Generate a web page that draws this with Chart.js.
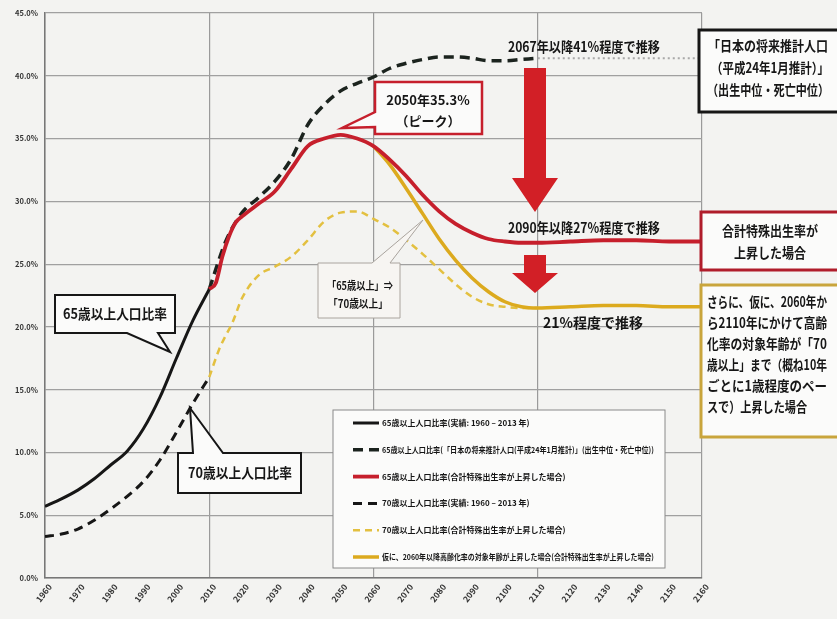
<!DOCTYPE html>
<html>
<head>
<meta charset="utf-8">
<script src="https://cdn.jsdelivr.net/npm/chart.js@4.4.1/dist/chart.umd.min.js"></script>
<style>
  html, body { margin: 0; padding: 0; background: #f3f3f1; }
  #wrap { width: 837px; height: 619px; }
</style>
</head>
<body>
<div id="wrap"><canvas id="chart" width="837" height="619"></canvas></div>
<script>
// --- DATA ---
const yTicks = [0, 5, 10, 15, 20, 25, 30, 35, 40, 45];

// 65歳以上人口比率 (実績)
const actualYears = [1960, 1965, 1970, 1975, 1980, 1985, 1990, 1995, 2000, 2005, 2010];
const actual65 = [5.7, 6.3, 7.0, 7.9, 9.0, 10.1, 11.9, 14.4, 17.5, 20.5, 23.0];
// 70歳以上人口比率 (実績)
const actual70 = [3.3, 3.5, 3.9, 4.6, 5.5, 6.5, 7.7, 9.4, 11.6, 13.9, 16.0];

// 65歳以上 将来推計 (出生中位・死亡中位)
const projYears = [2010, 2015, 2020, 2025, 2030, 2035, 2040, 2045, 2050, 2055, 2060,
                   2065, 2070, 2075, 2080, 2085, 2090, 2095, 2100, 2105, 2110];
const proj65 = [23.0, 26.8, 29.1, 30.3, 31.6, 33.4, 36.1, 37.7, 38.8, 39.4, 39.9,
                40.6, 41.0, 41.3, 41.5, 41.5, 41.4, 41.2, 41.2, 41.3, 41.4];
// 41%程度で推移 (延長)
const extYears = [2110, 2160];
const ext65 = [41.4, 41.4];

// 65歳以上 合計特殊出生率が上昇した場合
const riseYears = [2010, 2012, 2014, 2016, 2018, 2020, 2025, 2030, 2035, 2040, 2045, 2050,
                   2055, 2060, 2065, 2070, 2075, 2080, 2085, 2090, 2095, 2100, 2105, 2110,
                   2120, 2130, 2140, 2150, 2160];
const rise65 = [23.0, 23.5, 25.6, 27.2, 28.3, 28.8, 29.8, 30.8, 32.6, 34.4, 35.0, 35.3,
                35.0, 34.4, 33.3, 32.0, 30.5, 29.2, 28.2, 27.5, 27.0, 26.8, 26.7, 26.7,
                26.8, 26.9, 26.9, 26.8, 26.8];

// 70歳以上 合計特殊出生率が上昇した場合
const rise70Years = [2010, 2013, 2015, 2017, 2020, 2025, 2030, 2035, 2040, 2045, 2050, 2055,
                     2060, 2065, 2070, 2075, 2080, 2085, 2090, 2095, 2100, 2105, 2110];
const rise70 = [16.0, 18.2, 19.3, 20.3, 22.3, 24.1, 24.8, 25.6, 26.9, 28.4, 29.1, 29.2,
                28.6, 27.9, 26.9, 25.8, 24.6, 23.4, 22.4, 21.8, 21.6, 21.5, 21.5];

// 仮に、2060年以降高齢化率の対象年齢が上昇した場合
const shiftYears = [2060, 2065, 2070, 2075, 2080, 2085, 2090, 2095, 2100, 2105, 2110,
                    2120, 2130, 2140, 2150, 2160];
const shift = [34.4, 32.9, 31.0, 29.0, 27.0, 25.3, 23.9, 22.8, 22.0, 21.6, 21.5,
               21.6, 21.7, 21.7, 21.6, 21.6];

const FONT = '"Noto Sans CJK JP", "Noto Sans", sans-serif';
const RED = '#c61f2c';
const GOLD = '#dcaa1e';
const PALE_GOLD = '#e3c040';
const INK = '#161616';

function pts(xs, ys) {
    return xs.map((x, i) => ({ x: x, y: ys[i] }));
}

// --- DRAWING HELPERS ---
function callout(ctx, x, y, w, h, ptr, stroke, fill, lw) {
    ctx.beginPath();
    ctx.moveTo(x, y);
    if (ptr.side === 'top') { ctx.lineTo(ptr.a, y); ctx.lineTo(ptr.tip[0], ptr.tip[1]); ctx.lineTo(ptr.b, y); }
    ctx.lineTo(x + w, y);
    ctx.lineTo(x + w, y + h);
    if (ptr.side === 'bottom') { ctx.lineTo(ptr.b, y + h); ctx.lineTo(ptr.tip[0], ptr.tip[1]); ctx.lineTo(ptr.a, y + h); }
    ctx.lineTo(x, y + h);
    if (ptr.side === 'left') { ctx.lineTo(x, ptr.b); ctx.lineTo(ptr.tip[0], ptr.tip[1]); ctx.lineTo(x, ptr.a); }
    ctx.closePath();
    ctx.fillStyle = fill;
    ctx.fill();
    ctx.lineWidth = lw;
    ctx.strokeStyle = stroke;
    ctx.lineJoin = 'miter';
    ctx.stroke();
}

function box(ctx, x, y, w, h, stroke, lw) {
    ctx.fillStyle = '#fbfbfa';
    ctx.fillRect(x, y, w, h);
    ctx.lineWidth = lw;
    ctx.strokeStyle = stroke;
    ctx.strokeRect(x, y, w, h);
}

function text(ctx, str, x, y, size, align, maxW) {
    ctx.font = 'bold ' + size + 'px ' + FONT;
    ctx.fillStyle = INK;
    ctx.textAlign = align || 'center';
    ctx.textBaseline = 'middle';
    if (maxW) ctx.fillText(str, x, y, maxW); else ctx.fillText(str, x, y);
}

function downArrow(ctx, cx, top, headTop, tip) {
    ctx.fillStyle = '#d21f26';
    ctx.beginPath();
    ctx.moveTo(cx - 11, top);
    ctx.lineTo(cx + 11, top);
    ctx.lineTo(cx + 11, headTop);
    ctx.lineTo(cx + 23, headTop);
    ctx.lineTo(cx, tip);
    ctx.lineTo(cx - 23, headTop);
    ctx.lineTo(cx - 11, headTop);
    ctx.closePath();
    ctx.fill();
}

const backgroundPlugin = {
    id: 'paper',
    beforeDraw(chart) {
        const ctx = chart.ctx;
        ctx.save();
        ctx.fillStyle = '#f3f3f1';
        ctx.fillRect(0, 0, chart.width, chart.height);
        ctx.restore();
    }
};

const notesPlugin = {
    id: 'notes',
    afterDraw(chart) {
        const ctx = chart.ctx;
        ctx.save();

        // arrows
        downArrow(ctx, 535, 68, 178, 212);
        downArrow(ctx, 535, 255, 273, 293);

        // running texts
        text(ctx, '2067年以降41%程度で推移', 508, 47, 14, 'left', 152);
        text(ctx, '2090年以降27%程度で推移', 508, 228, 14, 'left', 152);
        text(ctx, '21%程度で推移', 543, 323, 14, 'left', 112);

        // peak callout
        callout(ctx, 375, 82, 107, 52, { side: 'left', a: 112, b: 127, tip: [342, 128] }, RED, '#fbfbfa', 2.5);
        text(ctx, '2050年35.3%', 428, 100, 13, 'center', 90);
        text(ctx, '（ピーク）', 428, 121, 13, 'center', 80);

        // 65歳以上 callout
        callout(ctx, 55, 295, 120, 38, { side: 'bottom', a: 127, b: 158, tip: [170, 352] }, INK, '#fbfbfa', 2);
        text(ctx, '65歳以上人口比率', 115, 314, 14, 'center', 104);

        // 70歳以上 callout
        callout(ctx, 178, 453, 123, 40, { side: 'top', a: 193, b: 223, tip: [190, 408] }, INK, '#fbfbfa', 2);
        text(ctx, '70歳以上人口比率', 240, 473, 14, 'center', 104);

        // 「65歳以上」⇒「70歳以上」 callout
        callout(ctx, 318, 263, 82, 55, { side: 'top', a: 372, b: 390, tip: [423, 220] }, '#aaa49e', '#f7f5f2', 1);
        text(ctx, '「65歳以上」⇒', 360, 286, 11, 'center', 66);
        text(ctx, '「70歳以上」', 358, 304, 11, 'center', 60);

        // right side boxes
        box(ctx, 699, 30, 142, 82, INK, 3);
        text(ctx, '「日本の将来推計人口', 768, 46, 14, 'center', 120);
        text(ctx, '（平成24年1月推計）」', 770, 68, 14, 'center', 118);
        text(ctx, '（出生中位・死亡中位）', 768, 90, 14, 'center', 122);

        box(ctx, 701, 212, 140, 58, '#b01d2b', 3);
        text(ctx, '合計特殊出生率が', 770, 231, 14, 'center', 96);
        text(ctx, '上昇した場合', 770, 253, 14, 'center', 72);

        box(ctx, 701, 285, 140, 152, '#c9a53c', 3);
        const lines = [['さらに、仮に、2060年か', 120], ['ら2110年にかけて高齢', 120],
                       ['化率の対象年齢が「70', 120], ['歳以上」まで（概ね10年', 120],
                       ['ごとに1歳程度のペー', 120], ['スで）上昇した場合', 100]];
        lines.forEach((l, i) => text(ctx, l[0], 707, 302 + i * 21, 14, 'left', l[1]));

        // legend
        box(ctx, 333, 410, 332, 158, '#8a8a8a', 1);
        const items = chart.data.datasets.filter(d => d.inLegend);
        items.sort((p, q) => p.legendIndex - q.legendIndex);
        items.forEach((d, i) => {
            const y = 423 + i * 26.8;
            ctx.beginPath();
            ctx.setLineDash(d.borderDash || []);
            ctx.lineWidth = d.borderWidth;
            ctx.strokeStyle = d.borderColor;
            ctx.moveTo(353, y);
            ctx.lineTo(379, y);
            ctx.stroke();
            ctx.setLineDash([]);
            text(ctx, d.label, 382, y, 8, 'left', 272);
        });

        ctx.restore();
    }
};

// --- CHART ---
const ctx = document.getElementById('chart').getContext('2d');
new Chart(ctx, {
    type: 'line',
    data: {
        datasets: [
            { label: 'ext', data: pts(extYears, ext65), borderColor: '#a8a8a8', borderWidth: 2,
              borderDash: [2, 3], order: 7 },
            { label: '70歳以上人口比率(合計特殊出生率が上昇した場合)', data: pts(rise70Years, rise70),
              borderColor: PALE_GOLD, borderWidth: 2.5, borderDash: [7, 5], order: 6, inLegend: true, legendIndex: 4 },
            { label: '70歳以上人口比率(実績: 1960 – 2013 年)', data: pts(actualYears, actual70),
              borderColor: INK, borderWidth: 3, borderDash: [9, 6], order: 5, inLegend: true, legendIndex: 3 },
            { label: '65歳以上人口比率(「日本の将来推計人口(平成24年1月推計)」(出生中位・死亡中位))',
              data: pts(projYears, proj65), borderColor: '#1b231e', borderWidth: 3.5, borderDash: [10, 6],
              order: 4, inLegend: true, legendIndex: 1 },
            { label: '仮に、2060年以降高齢化率の対象年齢が上昇した場合(合計特殊出生率が上昇した場合)',
              data: pts(shiftYears, shift), borderColor: GOLD, borderWidth: 3.5, order: 3,
              inLegend: true, legendIndex: 5 },
            { label: '65歳以上人口比率(合計特殊出生率が上昇した場合)', data: pts(riseYears, rise65),
              borderColor: RED, borderWidth: 3.8, order: 2, inLegend: true, legendIndex: 2 },
            { label: '65歳以上人口比率(実績: 1960 – 2013 年)', data: pts(actualYears, actual65),
              borderColor: INK, borderWidth: 3, order: 1, inLegend: true, legendIndex: 0 }
        ]
    },
    options: {
        responsive: false,
        animation: false,
        devicePixelRatio: 1,
        layout: { padding: { top: 13, right: 135, left: 0, bottom: 0 } },
        elements: {
            point: { radius: 0 },
            line: { cubicInterpolationMode: 'monotone', fill: false, borderCapStyle: 'butt' }
        },
        plugins: { legend: { display: false }, tooltip: { enabled: false } },
        scales: {
            x: {
                type: 'linear', min: 1960, max: 2160,
                afterFit: s => { s.height = 41; },
                ticks: {
                    stepSize: 10, minRotation: 52, maxRotation: 52, autoSkip: false,
                    color: '#333', padding: 4, labelOffset: 5,
                    font: { family: FONT, size: 8.5, weight: 'bold' },
                    callback: v => String(v)
                },
                grid: {
                    drawTicks: false, lineWidth: 1.2,
                    color: c => (c.tick && (c.tick.value - 1960) % 50 === 0) ? '#9a9a9a' : 'rgba(0,0,0,0)'
                },
                border: { color: '#777', width: 1.5 }
            },
            y: {
                min: 0, max: 45,
                afterFit: s => { s.width = 45; },
                afterBuildTicks: s => { s.ticks = yTicks.map(v => ({ value: v })); },
                ticks: {
                    color: '#333', padding: 7,
                    font: { family: FONT, size: 7.5, weight: 'bold' },
                    callback: v => v.toFixed(1) + '%'
                },
                grid: { drawTicks: false, color: '#a0a0a0', lineWidth: 1.2 },
                border: { color: '#777', width: 1.5 }
            }
        }
    },
    plugins: [backgroundPlugin, notesPlugin]
});
</script>
</body>
</html>
